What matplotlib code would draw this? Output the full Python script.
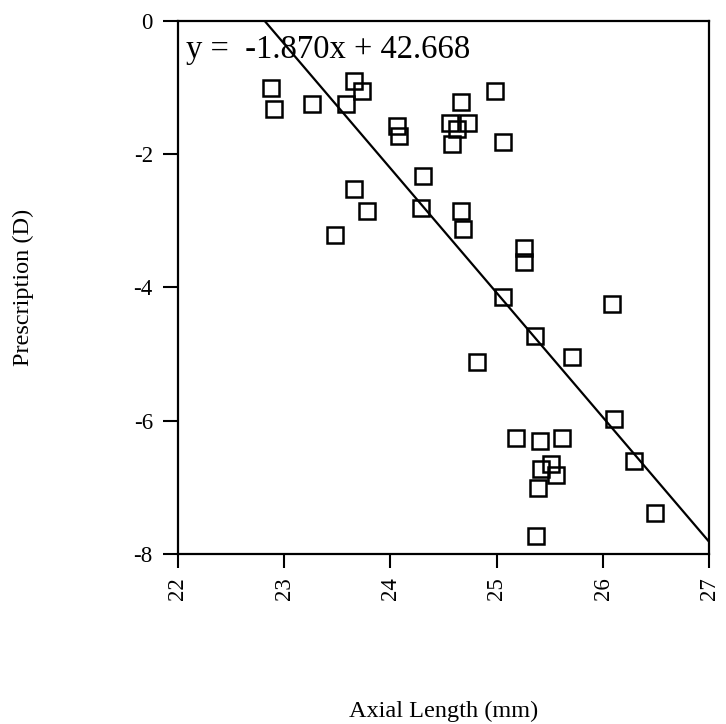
import matplotlib
matplotlib.use("Agg")
import matplotlib.pyplot as plt

plt.rcParams['font.family'] = ['Liberation Serif', 'DejaVu Serif']
plt.rcParams['axes.unicode_minus'] = False

# Axial length (mm) vs prescription (D)
axial_length = [22.88, 22.90, 23.26, 23.58, 23.66, 23.73, 23.66, 23.78, 23.48,
                24.06, 24.08, 24.31, 24.29, 24.56, 24.58, 24.63, 24.66, 24.73,
                24.98, 25.06, 24.66, 24.68, 25.26, 25.26, 25.06, 25.36, 25.71,
                26.08, 24.81, 25.18, 25.41, 25.61, 26.10, 25.42, 25.51, 25.56,
                25.39, 26.29, 26.49, 25.37]
prescription = [-1.01, -1.32, -1.25, -1.25, -0.90, -1.05, -2.52, -2.85, -3.21,
                -1.58, -1.73, -2.33, -2.81, -1.53, -1.85, -1.62, -1.22, -1.53,
                -1.05, -1.82, -2.85, -3.12, -3.41, -3.62, -4.14, -4.73, -5.05,
                -4.25, -5.12, -6.26, -6.31, -6.26, -5.98, -6.73, -6.65, -6.82,
                -7.01, -6.61, -7.39, -7.73]

slope = -1.870
intercept = 42.668

fig = plt.figure(figsize=(7.26, 7.24), dpi=100)
ax = fig.add_axes([0.245, 0.235, 0.732, 0.736])

ax.plot(axial_length, prescription, linestyle='none', marker='s', markersize=12,
        markerfacecolor='none', markeredgecolor='black', markeredgewidth=1.8)

x0 = -intercept / slope
ax.plot([x0, 27], [slope * x0 + intercept, slope * 27 + intercept], color='black', lw=1.6)

ax.text(0.016, 0.975, "y =  -1.870x + 42.668", transform=ax.transAxes,
        fontsize=23.5, va='top', ha='left')

ax.set_xlim(22, 27)
ax.set_ylim(-8, 0)
ax.set_xticks([22, 23, 24, 25, 26, 27])
ax.set_yticks([0, -2, -4, -6, -8])
ax.tick_params(axis='x', labelsize=16.5, rotation=90, length=10, width=1.5,
               direction='out', pad=6.5)
ax.tick_params(axis='y', labelsize=16.5, length=11, width=1.5,
               direction='out', pad=7)
for s in ax.spines.values():
    s.set_linewidth(1.6)

ax.set_xlabel("Axial Length (mm)", fontsize=17.5)
ax.set_ylabel("Prescription (D)", fontsize=17.5)
ax.xaxis.set_label_coords(0.5, -0.275)
ax.yaxis.set_label_coords(-0.271, 0.5)

plt.savefig("out.png", dpi=100)
